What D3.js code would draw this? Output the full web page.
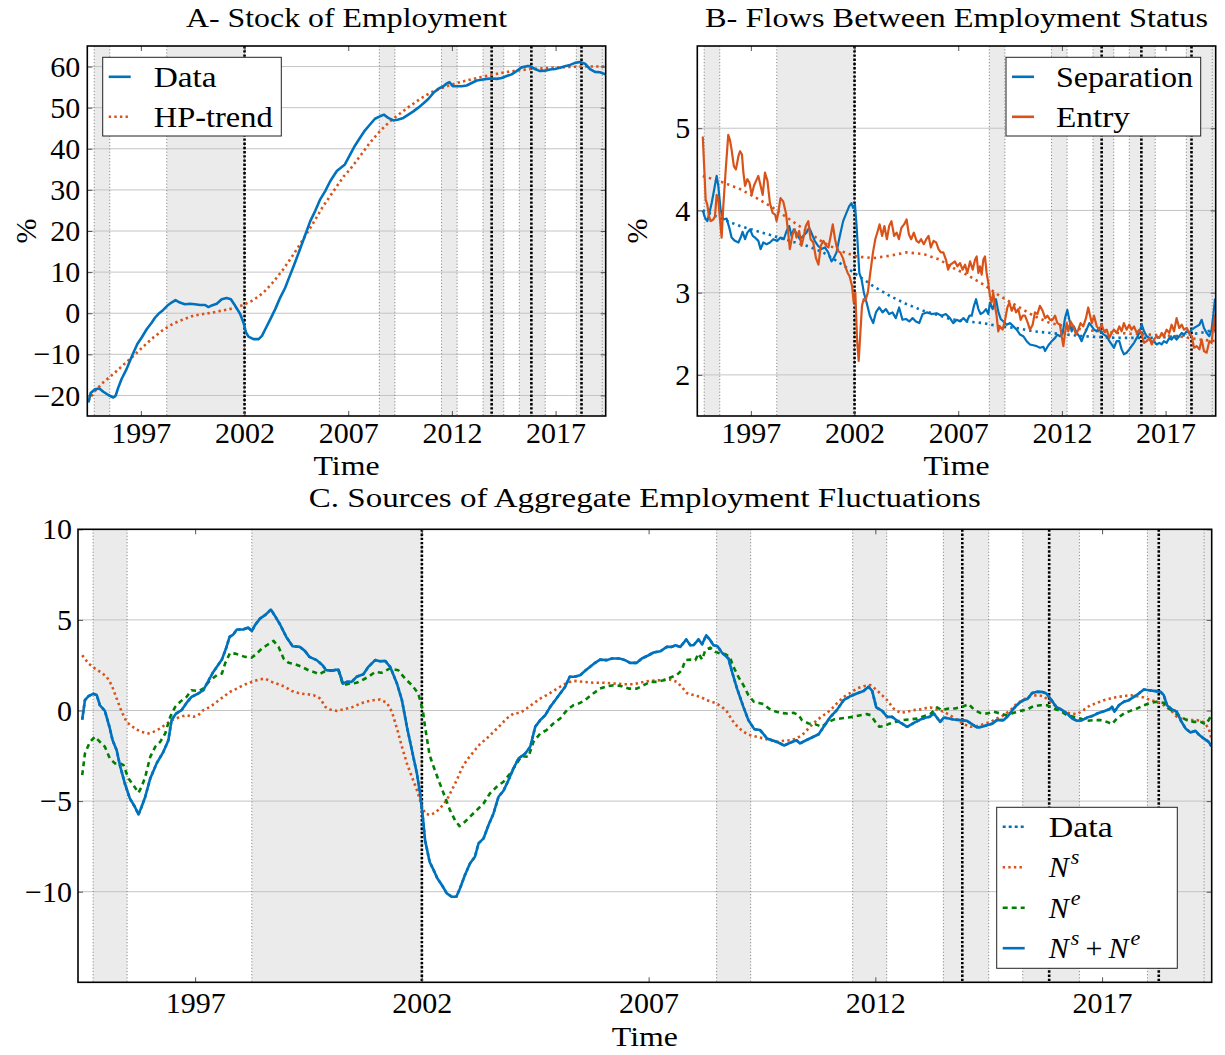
<!DOCTYPE html>
<html>
<head>
<meta charset="utf-8">
<script src="https://cdn.jsdelivr.net/npm/d3@7"></script>
<style>
  body { margin: 0; background: #fff; }
  svg { display: block; }
  text { font-family: "Liberation Serif", "Times New Roman", serif; fill: #000; }
</style>
</head>
<body>
<svg id="fig" width="1225" height="1055"></svg>
<script>
// ---------------------------------------------------------------------------
// Shared time axis, shaded episodes and event markers
// ---------------------------------------------------------------------------
const xDomain = [1994.417, 2019.417];
const xTickYears = [1997, 2002, 2007, 2012, 2017];
const shadedSpans = [
  [1994.75, 1995.5], [1998.25, 2002.0], [2008.5, 2009.25], [2011.5, 2012.25],
  [2013.5, 2014.5], [2015.25, 2016.5], [2018.0, 2019.25], [2019.25, 2019.417]
];
const eventDates = [2002.0, 2013.917, 2015.833, 2018.25];

// ---------------------------------------------------------------------------
// Panel A: stock of employment (% deviation) and its HP trend
// ---------------------------------------------------------------------------
const stockYTicks = [-20, -10, 0, 10, 20, 30, 40, 50, 60];
const stockData = [
  [1994.47,-21.7],[1994.58,-19.4],[1994.79,-18.5],[1995.00,-18.3],[1995.19,-19.1],[1995.43,-19.9],
  [1995.67,-20.5],[1995.78,-20.1],[1995.91,-18.1],[1996.07,-16.0],[1996.31,-13.6],[1996.47,-11.6],
  [1996.64,-9.6],[1996.83,-7.5],[1997.04,-5.9],[1997.28,-3.9],[1997.52,-2.3],[1997.68,-1.1],
  [1997.84,-0.2],[1998.08,0.8],[1998.27,1.8],[1998.48,2.6],[1998.67,3.2],[1998.88,2.6],
  [1999.12,2.2],[1999.37,2.3],[1999.61,2.2],[1999.86,2.0],[2000.10,2.0],[2000.26,1.5],
  [2000.42,1.9],[2000.66,2.3],[2000.90,3.4],[2001.14,3.7],[2001.34,3.4],[2001.55,1.8],
  [2001.79,-0.2],[2001.95,-2.3],[2002.07,-4.7],[2002.19,-5.7],[2002.43,-6.3],[2002.68,-6.3],
  [2002.84,-5.5],[2003.00,-3.9],[2003.24,-1.5],[2003.48,1.0],[2003.72,3.8],[2003.96,6.2],
  [2004.12,8.3],[2004.37,11.5],[2004.61,14.7],[2004.85,18.0],[2005.17,22.4],[2005.41,24.9],
  [2005.65,27.7],[2005.89,29.7],[2006.13,32.1],[2006.45,34.6],[2006.84,36.2],[2007.09,38.6],
  [2007.33,40.8],[2007.57,42.7],[2007.81,44.5],[2008.05,45.9],[2008.29,47.3],[2008.53,47.9],
  [2008.73,48.3],[2008.93,47.5],[2009.18,46.9],[2009.42,47.1],[2009.66,47.5],[2009.90,48.3],
  [2010.14,49.1],[2010.38,50.0],[2010.62,51.0],[2010.86,52.1],[2011.11,53.6],[2011.35,54.6],
  [2011.59,55.2],[2011.75,55.9],[2011.88,56.2],[2012.04,55.2],[2012.23,55.2],[2012.47,55.2],
  [2012.71,55.4],[2012.95,56.0],[2013.20,56.6],[2013.44,56.8],[2013.68,57.0],[2013.92,57.1],
  [2014.16,57.0],[2014.40,57.2],[2014.64,57.7],[2014.88,58.1],[2015.12,58.9],[2015.36,59.8],
  [2015.61,60.1],[2015.77,60.1],[2016.01,59.4],[2016.25,58.9],[2016.49,59.0],[2016.73,59.3],
  [2016.97,59.4],[2017.21,59.7],[2017.45,60.1],[2017.70,60.4],[2017.94,60.9],[2018.18,61.1],
  [2018.42,60.7],[2018.66,59.4],[2018.90,58.7],[2019.14,58.6],[2019.41,58.1]
];
const stockTrend = [
  [1994.47,-21.3],[1994.79,-18.9],[1995.19,-16.8],[1995.67,-14.8],[1996.15,-12.6],[1996.64,-10.4],
  [1997.12,-8.1],[1997.60,-5.9],[1998.09,-4.0],[1998.57,-2.5],[1999.05,-1.5],[1999.53,-0.6],
  [2000.01,-0.2],[2000.49,0.2],[2000.98,0.7],[2001.46,1.2],[2001.94,2.0],[2002.43,3.2],
  [2002.91,5.0],[2003.39,7.6],[2003.87,10.7],[2004.36,14.3],[2004.84,18.1],[2005.32,22.0],
  [2005.80,26.1],[2006.29,29.7],[2006.77,33.2],[2007.09,35.0],[2007.57,38.2],[2008.05,41.5],
  [2008.53,44.3],[2009.02,46.7],[2009.50,48.6],[2009.98,50.4],[2010.46,52.1],[2010.94,53.6],
  [2011.43,54.6],[2011.91,55.5],[2012.39,56.2],[2012.87,56.8],[2013.36,57.4],[2013.84,57.9],
  [2014.32,58.4],[2014.80,58.8],[2015.29,59.1],[2015.77,59.4],[2016.25,59.5],[2016.73,59.7],
  [2017.21,59.8],[2017.70,59.9],[2018.18,60.0],[2018.66,60.0],[2019.41,60.0]
];

// ---------------------------------------------------------------------------
// Panel B: separation and entry rates (%) with their trends
// ---------------------------------------------------------------------------
const flowYTicks = [2, 3, 4, 5];
const separationRate = [
  [1994.68,4.00],[1994.79,3.91],[1994.90,3.87],[1995.00,3.97],[1995.11,4.09],[1995.22,4.24],
  [1995.35,4.42],[1995.43,4.30],[1995.54,4.01],[1995.67,3.89],[1995.83,3.90],[1995.96,3.79],
  [1996.07,3.67],[1996.23,3.63],[1996.40,3.61],[1996.51,3.67],[1996.60,3.74],[1996.72,3.65],
  [1996.83,3.73],[1996.96,3.77],[1997.09,3.69],[1997.20,3.67],[1997.36,3.63],[1997.47,3.53],
  [1997.60,3.61],[1997.76,3.59],[1997.92,3.61],[1998.08,3.65],[1998.27,3.63],[1998.43,3.67],
  [1998.59,3.65],[1998.72,3.75],[1998.85,3.81],[1998.96,3.69],[1999.07,3.77],[1999.23,3.71],
  [1999.36,3.65],[1999.52,3.69],[1999.68,3.73],[1999.81,3.79],[1999.92,3.73],[2000.08,3.63],
  [2000.24,3.57],[2000.40,3.53],[2000.57,3.55],[2000.73,3.49],[2000.89,3.38],[2001.00,3.42],
  [2001.13,3.49],[2001.29,3.69],[2001.45,3.87],[2001.61,3.97],[2001.74,4.05],[2001.85,4.09],
  [2001.93,4.03],[2002.02,4.07],[2002.10,3.81],[2002.23,3.24],[2002.34,3.16],[2002.45,3.00],
  [2002.58,2.88],[2002.74,2.72],[2002.90,2.63],[2003.03,2.76],[2003.19,2.82],[2003.35,2.76],
  [2003.51,2.80],[2003.67,2.74],[2003.83,2.76],[2003.99,2.69],[2004.15,2.82],[2004.31,2.67],
  [2004.48,2.68],[2004.64,2.65],[2004.80,2.69],[2004.96,2.65],[2005.12,2.63],[2005.28,2.74],
  [2005.48,2.76],[2005.72,2.74],[2005.96,2.75],[2006.20,2.72],[2006.40,2.74],[2006.60,2.69],
  [2006.76,2.63],[2006.93,2.67],[2007.09,2.65],[2007.25,2.69],[2007.41,2.65],[2007.54,2.72],
  [2007.65,2.72],[2007.76,2.84],[2007.86,2.92],[2007.97,2.80],[2008.08,2.74],[2008.21,2.76],
  [2008.34,2.80],[2008.45,2.74],[2008.53,2.88],[2008.66,2.80],[2008.82,2.92],[2008.94,2.76],
  [2009.05,2.68],[2009.18,2.65],[2009.34,2.61],[2009.50,2.63],[2009.66,2.59],[2009.82,2.55],
  [2009.98,2.49],[2010.14,2.47],[2010.30,2.41],[2010.46,2.37],[2010.62,2.36],[2010.78,2.35],
  [2010.94,2.33],[2011.11,2.34],[2011.19,2.29],[2011.35,2.36],[2011.51,2.41],[2011.67,2.45],
  [2011.78,2.49],[2011.91,2.47],[2012.04,2.51],[2012.15,2.69],[2012.26,2.79],[2012.36,2.67],
  [2012.47,2.53],[2012.58,2.59],[2012.71,2.51],[2012.84,2.47],[2012.95,2.41],[2013.07,2.49],
  [2013.19,2.55],[2013.32,2.63],[2013.44,2.59],[2013.55,2.55],[2013.68,2.53],[2013.81,2.57],
  [2013.92,2.51],[2014.03,2.49],[2014.16,2.47],[2014.29,2.41],[2014.40,2.37],[2014.51,2.33],
  [2014.64,2.41],[2014.77,2.41],[2014.88,2.31],[2014.99,2.25],[2015.12,2.27],[2015.25,2.31],
  [2015.36,2.35],[2015.48,2.39],[2015.61,2.45],[2015.73,2.51],[2015.85,2.61],[2015.96,2.53],
  [2016.09,2.47],[2016.22,2.45],[2016.33,2.39],[2016.44,2.41],[2016.57,2.37],[2016.70,2.39],
  [2016.81,2.37],[2016.92,2.41],[2017.05,2.39],[2017.18,2.45],[2017.29,2.43],[2017.41,2.47],
  [2017.53,2.43],[2017.66,2.47],[2017.78,2.51],[2017.89,2.49],[2018.02,2.53],[2018.15,2.51],
  [2018.26,2.55],[2018.37,2.57],[2018.50,2.59],[2018.63,2.61],[2018.74,2.67],[2018.85,2.57],
  [2018.98,2.51],[2019.11,2.47],[2019.22,2.55],[2019.30,2.72],[2019.38,2.92],[2019.41,2.88]
];
const separationTrend = [
  [1994.68,4.00],[1995.67,3.89],[1996.48,3.81],[1997.28,3.75],[1998.08,3.69],[1998.88,3.63],
  [1999.69,3.57],[2000.49,3.49],[2001.29,3.36],[2002.10,3.22],[2002.90,3.08],[2003.71,2.96],
  [2004.51,2.86],[2005.32,2.78],[2006.12,2.72],[2006.60,2.68],[2007.41,2.65],[2008.21,2.63],
  [2009.01,2.59],[2009.82,2.57],[2010.62,2.53],[2011.43,2.51],[2012.23,2.49],[2013.03,2.47],
  [2013.84,2.46],[2014.64,2.45],[2015.45,2.45],[2016.25,2.45],[2017.05,2.46],[2017.86,2.48],
  [2018.66,2.51],[2019.41,2.55]
];
const entryRate = [
  [1994.68,4.90],[1994.74,4.58],[1994.82,4.13],[1994.90,4.07],[1994.98,3.93],[1995.06,3.87],
  [1995.19,3.89],[1995.27,3.93],[1995.35,4.19],[1995.43,4.13],[1995.51,3.89],[1995.59,3.67],
  [1995.67,4.05],[1995.80,4.54],[1995.91,4.92],[1995.99,4.86],[1996.07,4.74],[1996.18,4.54],
  [1996.28,4.50],[1996.40,4.66],[1996.48,4.72],[1996.57,4.68],[1996.64,4.46],[1996.72,4.30],
  [1996.83,4.38],[1996.93,4.34],[1997.04,4.19],[1997.15,4.30],[1997.25,4.36],[1997.36,4.42],
  [1997.47,4.30],[1997.57,4.19],[1997.68,4.46],[1997.80,4.36],[1997.92,4.09],[1998.05,3.97],
  [1998.17,3.95],[1998.24,3.87],[1998.32,3.97],[1998.43,4.15],[1998.56,4.11],[1998.69,3.97],
  [1998.80,3.73],[1998.88,3.53],[1999.01,3.71],[1999.12,3.77],[1999.20,3.67],[1999.33,3.75],
  [1999.44,3.57],[1999.52,3.65],[1999.65,3.81],[1999.77,3.87],[1999.88,3.65],[2000.01,3.61],
  [2000.14,3.42],[2000.26,3.34],[2000.37,3.57],[2000.50,3.63],[2000.63,3.57],[2000.74,3.55],
  [2000.85,3.69],[2000.95,3.83],[2001.06,3.65],[2001.18,3.51],[2001.31,3.49],[2001.44,3.42],
  [2001.55,3.32],[2001.67,3.24],[2001.76,3.20],[2001.88,3.08],[2001.96,2.88],[2002.04,3.00],
  [2002.12,2.43],[2002.20,2.17],[2002.28,2.51],[2002.36,2.84],[2002.44,2.92],[2002.52,2.90],
  [2002.64,3.00],[2002.76,3.24],[2002.89,3.49],[2003.00,3.65],[2003.12,3.75],[2003.21,3.83],
  [2003.33,3.69],[2003.44,3.81],[2003.56,3.65],[2003.67,3.81],[2003.78,3.87],[2003.91,3.69],
  [2004.03,3.73],[2004.14,3.65],[2004.26,3.79],[2004.39,3.83],[2004.51,3.89],[2004.62,3.71],
  [2004.73,3.65],[2004.86,3.73],[2004.99,3.63],[2005.10,3.61],[2005.21,3.65],[2005.34,3.59],
  [2005.46,3.65],[2005.57,3.69],[2005.68,3.55],[2005.81,3.63],[2005.94,3.61],[2006.05,3.53],
  [2006.16,3.49],[2006.28,3.49],[2006.41,3.40],[2006.51,3.28],[2006.62,3.34],[2006.73,3.36],
  [2006.84,3.38],[2006.96,3.32],[2007.09,3.36],[2007.21,3.28],[2007.33,3.34],[2007.44,3.24],
  [2007.57,3.38],[2007.70,3.28],[2007.81,3.40],[2007.89,3.44],[2007.97,3.24],[2008.05,3.32],
  [2008.13,3.22],[2008.21,3.40],[2008.29,3.44],[2008.37,3.24],[2008.45,3.12],[2008.53,2.96],
  [2008.61,2.88],[2008.69,3.00],[2008.77,2.84],[2008.85,2.72],[2008.93,2.53],[2009.01,2.59],
  [2009.14,2.55],[2009.26,2.67],[2009.37,2.82],[2009.47,2.88],[2009.58,2.78],[2009.69,2.84],
  [2009.79,2.76],[2009.90,2.80],[2010.01,2.67],[2010.11,2.72],[2010.22,2.72],[2010.33,2.65],
  [2010.46,2.55],[2010.59,2.61],[2010.70,2.76],[2010.82,2.74],[2010.94,2.84],[2011.07,2.78],
  [2011.19,2.69],[2011.30,2.72],[2011.43,2.67],[2011.55,2.67],[2011.67,2.72],[2011.78,2.63],
  [2011.91,2.61],[2011.99,2.47],[2012.07,2.35],[2012.15,2.51],[2012.23,2.63],[2012.31,2.53],
  [2012.42,2.65],[2012.55,2.59],[2012.68,2.49],[2012.79,2.55],[2012.90,2.63],[2013.03,2.59],
  [2013.16,2.69],[2013.27,2.82],[2013.36,2.72],[2013.44,2.63],[2013.55,2.72],[2013.68,2.59],
  [2013.81,2.55],[2013.92,2.61],[2014.03,2.53],[2014.16,2.55],[2014.29,2.45],[2014.40,2.51],
  [2014.51,2.55],[2014.64,2.51],[2014.77,2.59],[2014.88,2.53],[2014.99,2.63],[2015.12,2.55],
  [2015.25,2.61],[2015.36,2.55],[2015.48,2.59],[2015.61,2.51],[2015.73,2.55],[2015.85,2.49],
  [2015.96,2.39],[2016.09,2.41],[2016.22,2.45],[2016.33,2.37],[2016.44,2.43],[2016.57,2.47],
  [2016.70,2.45],[2016.81,2.51],[2016.92,2.47],[2017.05,2.55],[2017.18,2.51],[2017.29,2.61],
  [2017.41,2.53],[2017.53,2.69],[2017.66,2.57],[2017.78,2.61],[2017.89,2.55],[2018.02,2.57],
  [2018.15,2.51],[2018.26,2.47],[2018.37,2.33],[2018.50,2.35],[2018.63,2.31],[2018.74,2.43],
  [2018.85,2.29],[2018.98,2.27],[2019.11,2.41],[2019.22,2.39],[2019.30,2.59],[2019.38,2.72],
  [2019.41,2.51]
];
const entryTrend = [
  [1994.68,4.42],[1995.67,4.34],[1996.48,4.26],[1997.28,4.15],[1998.08,4.03],[1998.88,3.89],
  [1999.69,3.75],[2000.49,3.61],[2001.29,3.51],[2002.10,3.44],[2002.90,3.42],[2003.71,3.45],
  [2004.51,3.49],[2005.32,3.47],[2006.12,3.40],[2006.60,3.32],[2007.41,3.22],[2008.21,3.10],
  [2009.01,2.96],[2009.82,2.84],[2010.62,2.72],[2011.43,2.63],[2012.23,2.59],[2013.03,2.55],
  [2013.84,2.53],[2014.64,2.51],[2015.45,2.50],[2016.25,2.49],[2017.05,2.48],[2017.86,2.46],
  [2018.66,2.43],[2019.41,2.41]
];

// ---------------------------------------------------------------------------
// Panel C: decomposition of aggregate employment fluctuations
// ---------------------------------------------------------------------------
const sourcesYTicks = [-10, -5, 0, 5, 10];
const separationComponent = [   // N^s
  [1994.51,3.05],[1994.65,2.59],[1994.79,2.32],[1994.94,2.08],[1995.05,1.86],[1995.16,1.40],
  [1995.27,0.66],[1995.38,-0.07],[1995.49,-0.63],[1995.60,-0.86],[1995.71,-1.05],[1995.82,-1.18],
  [1995.97,-1.27],[1996.08,-1.18],[1996.23,-0.99],[1996.37,-0.72],[1996.52,-0.50],[1996.67,-0.35],
  [1996.81,-0.26],[1996.96,-0.35],[1997.07,-0.26],[1997.18,0.02],[1997.33,0.20],[1997.48,0.48],
  [1997.62,0.75],[1997.77,1.03],[1997.92,1.21],[1998.06,1.40],[1998.25,1.58],[1998.40,1.71],
  [1998.54,1.76],[1998.69,1.58],[1998.84,1.45],[1998.98,1.31],[1999.13,1.08],[1999.31,0.94],
  [1999.46,0.90],[1999.61,0.85],[1999.76,0.66],[1999.87,0.20],[1999.97,0.06],[2000.12,-0.02],
  [2000.27,0.06],[2000.45,0.17],[2000.56,0.29],[2000.75,0.48],[2000.93,0.57],[2001.08,0.61],
  [2001.23,0.42],[2001.34,-0.07],[2001.45,-0.99],[2001.56,-2.00],[2001.67,-2.92],[2001.78,-3.66],
  [2001.89,-4.39],[2001.98,-5.13],[2002.07,-5.68],[2002.18,-5.77],[2002.29,-5.64],[2002.40,-5.40],
  [2002.55,-4.94],[2002.66,-4.39],[2002.77,-3.84],[2002.88,-3.20],[2002.99,-2.74],[2003.14,-2.28],
  [2003.28,-1.86],[2003.43,-1.54],[2003.58,-1.18],[2003.73,-0.81],[2003.87,-0.44],[2004.02,-0.17],
  [2004.17,-0.13],[2004.31,0.11],[2004.46,0.39],[2004.61,0.66],[2004.75,0.85],[2004.90,1.08],
  [2005.05,1.31],[2005.20,1.53],[2005.34,1.64],[2005.56,1.58],[2005.78,1.53],[2006.01,1.53],
  [2006.23,1.49],[2006.45,1.45],[2006.67,1.45],[2006.89,1.58],[2007.04,1.64],[2007.26,1.67],
  [2007.48,1.71],[2007.62,1.58],[2007.73,1.31],[2007.84,0.97],[2007.99,0.85],[2008.14,0.75],
  [2008.29,0.57],[2008.47,0.42],[2008.62,0.20],[2008.73,-0.07],[2008.84,-0.53],[2008.95,-0.86],
  [2009.09,-1.18],[2009.24,-1.36],[2009.39,-1.45],[2009.53,-1.54],[2009.68,-1.64],[2009.83,-1.73],
  [2009.98,-1.67],[2010.12,-1.64],[2010.27,-1.54],[2010.42,-1.27],[2010.56,-0.90],[2010.71,-0.53],
  [2010.86,-0.26],[2011.01,0.02],[2011.15,0.39],[2011.30,0.75],[2011.45,0.97],[2011.59,1.21],
  [2011.74,1.34],[2011.89,1.40],[2011.99,1.21],[2012.11,0.94],[2012.26,0.57],[2012.40,0.11],
  [2012.55,-0.13],[2012.70,-0.07],[2012.84,0.02],[2012.99,0.06],[2013.07,0.11],[2013.21,0.17],
  [2013.36,0.06],[2013.51,-0.07],[2013.65,-0.26],[2013.80,-0.53],[2013.95,-0.75],[2014.09,-0.90],
  [2014.24,-0.86],[2014.39,-0.75],[2014.54,-0.63],[2014.68,-0.44],[2014.83,-0.26],[2014.98,0.02],
  [2015.12,0.39],[2015.27,0.61],[2015.42,0.79],[2015.57,0.85],[2015.71,0.79],[2015.86,0.48],
  [2016.01,0.17],[2016.15,-0.07],[2016.30,-0.17],[2016.45,-0.20],[2016.59,0.02],[2016.74,0.29],
  [2016.89,0.42],[2017.04,0.57],[2017.18,0.66],[2017.33,0.75],[2017.48,0.79],[2017.62,0.85],
  [2017.77,0.79],[2017.92,0.72],[2018.07,0.57],[2018.21,0.48],[2018.36,0.29],[2018.51,0.02],
  [2018.65,-0.35],[2018.80,-0.50],[2018.95,-0.53],[2019.09,-0.53],[2019.24,-0.63],[2019.35,-0.99],
  [2019.41,-1.54]
];
const entryComponent = [        // N^e
  [1994.51,-3.57],[1994.57,-2.37],[1994.68,-1.73],[1994.79,-1.45],[1994.90,-1.73],[1995.01,-2.00],
  [1995.12,-2.65],[1995.23,-2.92],[1995.33,-2.89],[1995.42,-3.01],[1995.53,-3.75],[1995.64,-4.12],
  [1995.75,-4.54],[1995.82,-4.21],[1995.90,-3.66],[1996.01,-2.56],[1996.12,-2.00],[1996.23,-1.73],
  [1996.34,-1.27],[1996.45,-0.35],[1996.56,0.20],[1996.67,0.48],[1996.81,0.75],[1996.92,1.12],
  [1997.07,1.07],[1997.18,1.21],[1997.33,1.67],[1997.48,1.95],[1997.59,2.04],[1997.66,2.59],
  [1997.77,3.18],[1997.88,3.14],[1997.99,3.05],[1998.10,2.96],[1998.25,2.92],[1998.36,3.14],
  [1998.47,3.42],[1998.58,3.60],[1998.73,3.84],[1998.84,3.51],[1998.95,2.87],[1999.06,2.63],
  [1999.20,2.56],[1999.35,2.41],[1999.50,2.22],[1999.61,2.13],[1999.74,2.00],[1999.83,2.13],
  [1999.97,2.19],[2000.16,2.22],[2000.26,1.40],[2000.42,1.49],[2000.56,1.53],[2000.71,1.71],
  [2000.82,1.86],[2000.97,2.13],[2001.11,2.08],[2001.30,2.32],[2001.48,2.22],[2001.63,1.76],
  [2001.78,1.40],[2001.92,0.94],[2002.02,0.02],[2002.07,-0.90],[2002.17,-2.46],[2002.26,-3.11],
  [2002.34,-3.66],[2002.48,-4.58],[2002.62,-5.50],[2002.73,-6.05],[2002.83,-6.38],[2002.95,-6.14],
  [2003.06,-5.86],[2003.21,-5.50],[2003.36,-5.13],[2003.50,-4.58],[2003.65,-4.21],[2003.80,-3.93],
  [2003.95,-3.47],[2004.09,-2.92],[2004.20,-2.52],[2004.35,-2.56],[2004.46,-1.73],[2004.61,-1.27],
  [2004.75,-1.08],[2004.90,-0.72],[2005.05,-0.44],[2005.20,0.02],[2005.34,0.29],[2005.49,0.42],
  [2005.64,0.66],[2005.78,0.94],[2005.93,1.21],[2006.08,1.34],[2006.26,1.40],[2006.41,1.34],
  [2006.56,1.21],[2006.74,1.21],[2006.89,1.40],[2007.04,1.58],[2007.18,1.58],[2007.33,1.67],
  [2007.48,1.82],[2007.62,1.95],[2007.73,2.22],[2007.81,2.78],[2007.92,2.81],[2008.03,2.78],
  [2008.10,3.14],[2008.18,2.81],[2008.25,3.33],[2008.36,3.47],[2008.47,3.24],[2008.58,3.14],
  [2008.69,3.11],[2008.79,2.96],[2008.87,2.41],[2008.98,1.86],[2009.09,1.40],[2009.20,0.85],
  [2009.32,0.48],[2009.43,0.42],[2009.54,0.35],[2009.65,0.11],[2009.76,-0.02],[2009.90,-0.13],
  [2010.05,-0.17],[2010.20,-0.13],[2010.31,-0.26],[2010.38,-0.53],[2010.53,-0.72],[2010.67,-0.75],
  [2010.82,-0.90],[2010.93,-0.68],[2011.08,-0.50],[2011.23,-0.44],[2011.37,-0.39],[2011.52,-0.35],
  [2011.67,-0.26],[2011.81,-0.20],[2011.90,-0.26],[2012.00,-0.63],[2012.09,-0.90],[2012.18,-0.86],
  [2012.29,-0.75],[2012.44,-0.63],[2012.59,-0.53],[2012.73,-0.50],[2012.92,-0.45],[2013.07,-0.31],
  [2013.21,-0.20],[2013.36,0.17],[2013.47,0.02],[2013.62,0.11],[2013.76,0.11],[2013.91,0.20],
  [2014.06,0.35],[2014.17,0.06],[2014.31,-0.13],[2014.46,-0.17],[2014.61,-0.07],[2014.76,-0.17],
  [2014.90,-0.26],[2015.05,-0.13],[2015.20,-0.02],[2015.35,0.06],[2015.49,0.24],[2015.64,0.29],
  [2015.79,0.29],[2015.93,0.11],[2016.08,-0.02],[2016.23,-0.26],[2016.37,-0.35],[2016.52,-0.44],
  [2016.67,-0.57],[2016.81,-0.53],[2016.96,-0.53],[2017.11,-0.63],[2017.22,-0.75],[2017.33,-0.44],
  [2017.48,-0.17],[2017.62,-0.02],[2017.77,0.11],[2017.92,0.29],[2018.07,0.42],[2018.21,0.48],
  [2018.36,0.42],[2018.47,0.11],[2018.58,-0.07],[2018.73,-0.35],[2018.87,-0.53],[2019.02,-0.63],
  [2019.17,-0.63],[2019.28,-0.75],[2019.35,-0.53],[2019.41,-0.26]
];
const combinedComponents = [    // N^s + N^e
  [1994.51,-0.50],[1994.57,0.57],[1994.65,0.79],[1994.75,0.92],[1994.83,0.85],[1994.90,0.29],
  [1995.01,-0.02],[1995.11,-0.90],[1995.18,-1.64],[1995.27,-2.19],[1995.34,-3.01],[1995.45,-4.03],
  [1995.56,-4.85],[1995.67,-5.31],[1995.75,-5.74],[1995.82,-5.31],[1995.90,-4.76],[1996.01,-3.75],
  [1996.15,-2.92],[1996.30,-2.28],[1996.41,-1.64],[1996.48,-0.53],[1996.58,-0.17],[1996.70,0.02],
  [1996.81,0.42],[1996.92,0.75],[1997.07,0.94],[1997.18,1.12],[1997.26,1.49],[1997.40,2.13],
  [1997.59,2.81],[1997.68,3.42],[1997.76,4.06],[1997.84,4.19],[1997.92,4.47],[1998.06,4.47],
  [1998.17,4.58],[1998.25,4.38],[1998.32,4.71],[1998.43,5.07],[1998.54,5.26],[1998.67,5.57],
  [1998.75,5.26],[1998.87,4.76],[1999.01,4.06],[1999.15,3.55],[1999.31,3.51],[1999.42,3.29],
  [1999.52,2.96],[1999.68,2.78],[1999.81,2.50],[1999.89,2.22],[2000.05,2.22],[2000.16,2.26],
  [2000.26,1.49],[2000.34,1.58],[2000.45,1.58],[2000.56,1.86],[2000.71,2.00],[2000.82,2.41],
  [2000.97,2.78],[2001.08,2.72],[2001.19,2.74],[2001.30,2.41],[2001.45,1.49],[2001.56,0.57],
  [2001.67,-0.90],[2001.78,-2.19],[2001.89,-3.47],[2001.96,-4.58],[2002.02,-5.86],[2002.07,-7.15],
  [2002.17,-8.35],[2002.26,-8.81],[2002.34,-9.26],[2002.44,-9.63],[2002.55,-10.09],[2002.66,-10.28],
  [2002.76,-10.28],[2002.84,-9.82],[2002.95,-9.08],[2003.06,-8.44],[2003.17,-8.07],[2003.25,-7.33],
  [2003.36,-7.06],[2003.47,-6.32],[2003.58,-5.68],[2003.69,-4.76],[2003.80,-4.43],[2003.91,-3.84],
  [2004.02,-3.20],[2004.13,-2.65],[2004.28,-2.37],[2004.39,-2.00],[2004.50,-0.90],[2004.61,-0.53],
  [2004.72,-0.26],[2004.83,0.20],[2004.94,0.57],[2005.05,0.94],[2005.16,1.31],[2005.26,1.86],
  [2005.36,1.86],[2005.49,1.95],[2005.60,2.19],[2005.71,2.41],[2005.82,2.63],[2005.93,2.81],
  [2006.08,2.78],[2006.19,2.87],[2006.36,2.87],[2006.48,2.78],[2006.59,2.63],[2006.74,2.63],
  [2006.85,2.87],[2007.00,3.05],[2007.11,3.20],[2007.26,3.27],[2007.40,3.51],[2007.51,3.51],
  [2007.59,3.60],[2007.70,3.51],[2007.83,3.92],[2007.92,3.60],[2007.99,3.60],[2008.10,3.92],
  [2008.18,3.66],[2008.27,4.15],[2008.36,3.88],[2008.43,3.60],[2008.52,3.55],[2008.62,3.18],
  [2008.76,2.87],[2008.84,2.13],[2008.95,1.21],[2009.09,0.20],[2009.20,-0.53],[2009.33,-1.03],
  [2009.46,-1.08],[2009.61,-1.54],[2009.76,-1.67],[2009.87,-1.78],[2009.99,-1.93],[2010.12,-1.78],
  [2010.26,-1.64],[2010.34,-1.82],[2010.45,-1.67],[2010.60,-1.49],[2010.75,-1.31],[2010.86,-0.90],
  [2011.01,-0.35],[2011.15,0.02],[2011.30,0.57],[2011.45,0.79],[2011.59,0.94],[2011.74,1.08],
  [2011.85,1.31],[2011.93,1.08],[2012.02,0.17],[2012.15,-0.02],[2012.26,-0.35],[2012.37,-0.35],
  [2012.48,-0.57],[2012.59,-0.72],[2012.70,-0.90],[2012.84,-0.70],[2012.99,-0.50],[2013.10,-0.40],
  [2013.20,-0.35],[2013.29,-0.17],[2013.43,-0.63],[2013.51,-0.39],[2013.62,-0.44],[2013.73,-0.50],
  [2013.87,-0.53],[2014.02,-0.57],[2014.13,-0.75],[2014.24,-0.94],[2014.35,-0.90],[2014.46,-0.81],
  [2014.59,-0.72],[2014.68,-0.53],[2014.83,-0.53],[2014.94,-0.26],[2015.05,0.11],[2015.16,0.39],
  [2015.26,0.57],[2015.35,0.63],[2015.46,0.97],[2015.57,1.03],[2015.68,1.03],[2015.77,0.94],
  [2015.86,0.66],[2015.99,0.20],[2016.12,0.02],[2016.23,-0.17],[2016.34,-0.44],[2016.45,-0.57],
  [2016.56,-0.53],[2016.67,-0.39],[2016.78,-0.31],[2016.89,-0.17],[2017.04,-0.04],[2017.15,0.06],
  [2017.22,0.20],[2017.27,-0.07],[2017.37,0.29],[2017.48,0.48],[2017.59,0.57],[2017.70,0.75],
  [2017.81,0.94],[2017.92,1.16],[2018.03,1.12],[2018.18,1.07],[2018.29,1.03],[2018.36,0.85],
  [2018.43,0.29],[2018.54,0.06],[2018.65,-0.07],[2018.73,-0.53],[2018.84,-0.99],[2018.95,-1.21],
  [2019.06,-1.12],[2019.13,-1.32],[2019.24,-1.54],[2019.35,-1.73],[2019.41,-1.97]
];
// The observed series coincides with the sum of both components.
const employmentObserved = combinedComponents;

// ---------------------------------------------------------------------------
// Styling
// ---------------------------------------------------------------------------
const BLUE = "#0072bd", ORANGE = "#d95319", GREEN = "#008000";
const FONT_PX = 30;
const svg = d3.select("#fig");
let clipCount = 0;

function drawPanel(cfg) {
  const g = svg.append("g");
  const x = d3.scaleLinear().domain(xDomain).range([cfg.left, cfg.right]);
  const y = d3.scaleLinear().domain(cfg.yDomain).range([cfg.bottom, cfg.top]);
  const clipId = "clip" + (clipCount++);
  g.append("clipPath").attr("id", clipId).append("rect")
    .attr("x", cfg.left).attr("y", cfg.top)
    .attr("width", cfg.right - cfg.left).attr("height", cfg.bottom - cfg.top);
  const plot = g.append("g").attr("clip-path", `url(#${clipId})`);

  // shaded episodes
  plot.selectAll("rect.shade").data(shadedSpans).join("rect")
    .attr("class", "shade")
    .attr("x", d => x(d[0])).attr("width", d => x(d[1]) - x(d[0]))
    .attr("y", cfg.top).attr("height", cfg.bottom - cfg.top)
    .attr("fill", "#ebebeb");

  // horizontal grid
  plot.selectAll("line.grid").data(cfg.yTicks).join("line")
    .attr("x1", cfg.left).attr("x2", cfg.right)
    .attr("y1", d => y(d)).attr("y2", d => y(d))
    .attr("stroke", "#c4c4c4").attr("stroke-width", 1);

  // dotted borders of the shaded episodes
  const edges = Array.from(new Set(shadedSpans.flat())).filter(v => v < xDomain[1] - 0.01);
  plot.selectAll("line.edge").data(edges).join("line")
    .attr("x1", d => x(d)).attr("x2", d => x(d))
    .attr("y1", cfg.top).attr("y2", cfg.bottom)
    .attr("stroke", "#8a8a8a").attr("stroke-width", 1).attr("stroke-dasharray", "1.2,2");

  // event markers
  plot.selectAll("line.event").data(eventDates).join("line")
    .attr("x1", d => x(d)).attr("x2", d => x(d))
    .attr("y1", cfg.top).attr("y2", cfg.bottom)
    .attr("stroke", "#000").attr("stroke-width", 2.6).attr("stroke-dasharray", "2.4,1.8");

  // series
  const line = d3.line().x(d => x(d[0])).y(d => y(d[1]));
  cfg.series.forEach(s => {
    plot.append("path").datum(s.data)
      .attr("d", line).attr("fill", "none")
      .attr("stroke", s.color).attr("stroke-width", s.width)
      .attr("stroke-dasharray", s.dash || null)
      .attr("stroke-linejoin", "round");
  });

  // axes (ticks point inward)
  const fmt = d3.format("d");
  const bottomAxis = g.append("g").attr("transform", `translate(0,${cfg.bottom})`)
    .call(d3.axisBottom(x).tickValues(xTickYears).tickFormat(fmt)
      .tickSizeInner(-5).tickSizeOuter(0).tickPadding(cfg.xPad));
  const topAxis = g.append("g").attr("transform", `translate(0,${cfg.top})`)
    .call(d3.axisTop(x).tickValues(xTickYears).tickFormat("")
      .tickSizeInner(-5).tickSizeOuter(0));
  const leftAxis = g.append("g").attr("transform", `translate(${cfg.left},0)`)
    .call(d3.axisLeft(y).tickValues(cfg.yTicks).tickFormat(d3.format("d"))
      .tickSizeInner(-5).tickSizeOuter(0).tickPadding(cfg.yPad));
  const rightAxis = g.append("g").attr("transform", `translate(${cfg.right},0)`)
    .call(d3.axisRight(y).tickValues(cfg.yTicks).tickFormat("")
      .tickSizeInner(-5).tickSizeOuter(0));
  [bottomAxis, topAxis, leftAxis, rightAxis].forEach(a => {
    a.select(".domain").remove();
    a.selectAll(".tick line").attr("stroke", "#555").attr("stroke-width", 1);
    a.selectAll("text").attr("font-size", FONT_PX)
      .attr("font-family", '"Liberation Serif", serif').attr("fill", "#000");
  });

  // frame
  g.append("rect").attr("x", cfg.left).attr("y", cfg.top)
    .attr("width", cfg.right - cfg.left).attr("height", cfg.bottom - cfg.top)
    .attr("fill", "none").attr("stroke", "#000").attr("stroke-width", 1.6);

  // title and labels
  const cx = (cfg.left + cfg.right) / 2;
  g.append("text").attr("x", cx).attr("y", cfg.titleY)
    .attr("text-anchor", "middle").attr("font-size", 28)
    .attr("textLength", cfg.titleWidth).attr("lengthAdjust", "spacingAndGlyphs")
    .text(cfg.title);
  g.append("text").attr("x", cx).attr("y", cfg.xLabelY)
    .attr("text-anchor", "middle").attr("font-size", 28)
    .attr("textLength", 66).attr("lengthAdjust", "spacingAndGlyphs")
    .text("Time");
  if (cfg.yLabelX) {
    g.append("text")
      .attr("transform", `translate(${cfg.yLabelX},${(cfg.top + cfg.bottom) / 2}) rotate(-90)`)
      .attr("text-anchor", "middle").attr("dy", "0.35em").attr("font-size", FONT_PX)
      .text("%");
  }

  // legend
  const L = cfg.legend;
  g.append("rect").attr("x", L.x).attr("y", L.y).attr("width", L.w).attr("height", L.h)
    .attr("fill", "#fff").attr("stroke", "#222").attr("stroke-width", 1);
  L.items.forEach((it, i) => {
    const ly = L.y + L.firstRow + i * L.rowGap;
    g.append("line").attr("x1", L.x + 6).attr("x2", L.x + 28)
      .attr("y1", ly).attr("y2", ly)
      .attr("stroke", it.color).attr("stroke-width", it.width)
      .attr("stroke-dasharray", it.dash || null);
    const t = g.append("text").attr("x", L.x + L.textOffset).attr("y", ly + 10)
      .attr("font-size", FONT_PX);
    it.label(t);
  });
}

function plainLabel(str, width) {
  return t => { t.text(str); if (width) t.attr("textLength", width).attr("lengthAdjust", "spacingAndGlyphs"); };
}
function mathLabel(parts) {
  // parts: list of [base, superscript] pairs joined by " + "
  return t => {
    parts.forEach((p, i) => {
      if (i > 0) t.append("tspan").attr("dx", 6).text("+");
      t.append("tspan").attr("font-style", "italic").attr("dx", i > 0 ? 6 : 0).text(p[0]);
      t.append("tspan").attr("font-style", "italic").attr("font-size", 22)
        .attr("dy", -13).attr("dx", 2).text(p[1]);
      t.append("tspan").attr("font-size", 1).attr("dy", 13).text(" ");
    });
  };
}

// Panel A
drawPanel({
  left: 87.3, right: 605.7, top: 46, bottom: 416,
  yDomain: [-25, 65], yTicks: stockYTicks, yPad: 7, xPad: 6,
  title: "A- Stock of Employment", titleWidth: 321, titleY: 27,
  xLabelY: 475, yLabelX: 25,
  series: [
    { data: stockTrend, color: ORANGE, width: 2.6, dash: "2.4,3.2" },
    { data: stockData, color: BLUE, width: 2.6 }
  ],
  legend: {
    x: 102.7, y: 57.3, w: 178.6, h: 78.7, firstRow: 19.5, rowGap: 40, textOffset: 51,
    items: [
      { color: BLUE, width: 2.6, label: plainLabel("Data", 63) },
      { color: ORANGE, width: 2.6, dash: "2.4,3.2", label: plainLabel("HP-trend", 119) }
    ]
  }
});

// Panel B
drawPanel({
  left: 697.3, right: 1215.7, top: 46, bottom: 416,
  yDomain: [1.5, 6], yTicks: flowYTicks, yPad: 7, xPad: 6,
  title: "B- Flows Between Employment Status", titleWidth: 503, titleY: 27,
  xLabelY: 475, yLabelX: 636,
  series: [
    { data: separationTrend, color: BLUE, width: 2.6, dash: "2.4,4" },
    { data: entryTrend, color: ORANGE, width: 2.6, dash: "2.4,4" },
    { data: separationRate, color: BLUE, width: 2.2 },
    { data: entryRate, color: ORANGE, width: 2.2 }
  ],
  legend: {
    x: 1006, y: 57.3, w: 194.7, h: 78.7, firstRow: 19.5, rowGap: 40, textOffset: 50,
    items: [
      { color: BLUE, width: 2.6, label: plainLabel("Separation", 137) },
      { color: ORANGE, width: 2.6, label: plainLabel("Entry", 74) }
    ]
  }
});

// Panel C
drawPanel({
  left: 78, right: 1211.7, top: 529.3, bottom: 982.3,
  yDomain: [-15, 10], yTicks: sourcesYTicks, yPad: 6, xPad: 9,
  title: "C. Sources of Aggregate Employment Fluctuations", titleWidth: 672, titleY: 507,
  xLabelY: 1046, yLabelX: null,
  series: [
    { data: employmentObserved, color: BLUE, width: 2.6, dash: "3,3" },
    { data: separationComponent, color: ORANGE, width: 2.6, dash: "2.4,3.2" },
    { data: entryComponent, color: GREEN, width: 2.6, dash: "5,4" },
    { data: combinedComponents, color: BLUE, width: 2.6 }
  ],
  legend: {
    x: 996.7, y: 807.3, w: 180.6, h: 161, firstRow: 19.4, rowGap: 40.5, textOffset: 52,
    items: [
      { color: BLUE, width: 2.6, dash: "3,3", label: plainLabel("Data", 64) },
      { color: ORANGE, width: 2.6, dash: "2.4,3.2", label: mathLabel([["N", "s"]]) },
      { color: GREEN, width: 2.6, dash: "5,4", label: mathLabel([["N", "e"]]) },
      { color: BLUE, width: 2.6, label: mathLabel([["N", "s"], ["N", "e"]]) }
    ]
  }
});
</script>
</body>
</html>
